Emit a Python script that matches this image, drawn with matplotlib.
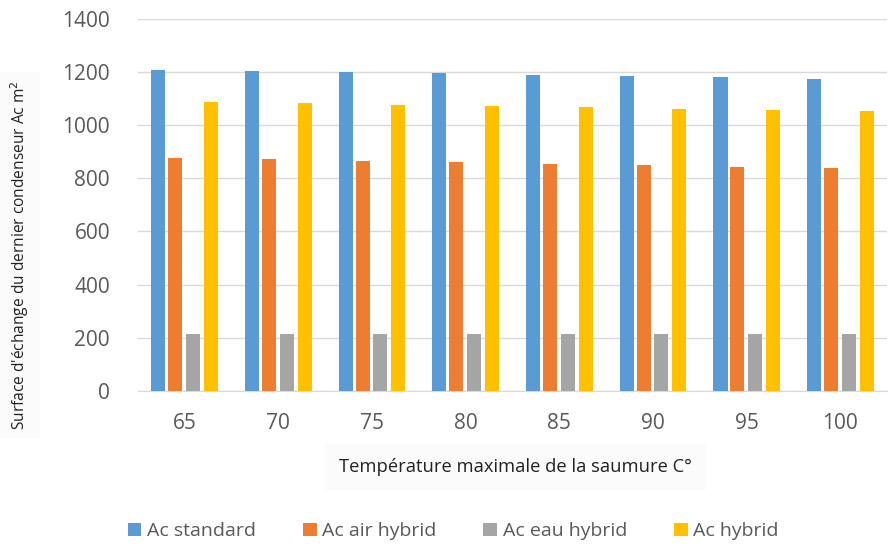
import numpy as np
import matplotlib.pyplot as plt

plt.rcParams['font.family'] = ['Open Sans', 'DejaVu Sans']

# Brine max temperature (°C) and condenser areas per configuration
temperatures = ['65', '70', '75', '80', '85', '90', '95', '100']
ac_standard = [1210, 1205, 1200, 1196, 1191, 1186, 1181, 1176]
ac_air_hybrid = [878, 873, 867, 862, 856, 850, 844, 838]
ac_eau_hybrid = [213, 213, 213, 213, 213, 213, 213, 213]
ac_hybrid = [1088, 1083, 1078, 1073, 1068, 1063, 1058, 1053]

series = [
    ('Ac standard', ac_standard, '#5b9bd5'),
    ('Ac air hybrid', ac_air_hybrid, '#ed7d31'),
    ('Ac eau hybrid', ac_eau_hybrid, '#a5a5a5'),
    ('Ac hybrid', ac_hybrid, '#ffc000'),
]

fig = plt.figure(figsize=(8.89, 5.45), dpi=100)
ax = fig.add_axes([0.155, 0.283, 0.843, 0.682])

x = np.arange(len(temperatures))
offsets = [-0.28, -0.1, 0.09, 0.28]
width = 0.15
for (name, vals, col), off in zip(series, offsets):
    ax.bar(x + off, vals, width, color=col, label=name, zorder=3)

ax.set_xlim(-0.5, len(temperatures) - 0.5)
ax.set_ylim(0, 1400)
ax.set_yticks(range(0, 1401, 200))
ax.set_xticks(x)
ax.set_xticklabels(temperatures)
ax.yaxis.grid(True, color='#d9d9d9', linewidth=1, zorder=0)
ax.tick_params(axis='both', length=0, labelsize=15, labelcolor='#595959')
ax.tick_params(axis='x', pad=16)
ax.tick_params(axis='y', pad=20)
for s in ['top', 'right', 'left']:
    ax.spines[s].set_visible(False)
ax.spines['bottom'].set_color('#d9d9d9')

# axis titles sit on faint panels
fig.text(0.0225, 0.532, "Surface d'échange du dernier condenseur Ac m$^2$",
         rotation=90, ha='center', va='center', fontsize=11.2, color='#222222',
         bbox=dict(facecolor='#fbfbfb', edgecolor='none', pad=6))
fig.text(0.58, 0.143, 'Température maximale de la saumure C°', ha='center',
         va='center', fontsize=13.2, color='#222222',
         bbox=dict(facecolor='#fbfbfb', edgecolor='none', pad=10))

fig.legend(loc='center', bbox_to_anchor=(0.51, 0.025), ncol=4, frameon=False,
           fontsize=14, labelcolor='#595959', handlelength=0.7, handleheight=0.7,
           handletextpad=0.3, columnspacing=2.4)

fig.savefig('out.png', dpi=100)
